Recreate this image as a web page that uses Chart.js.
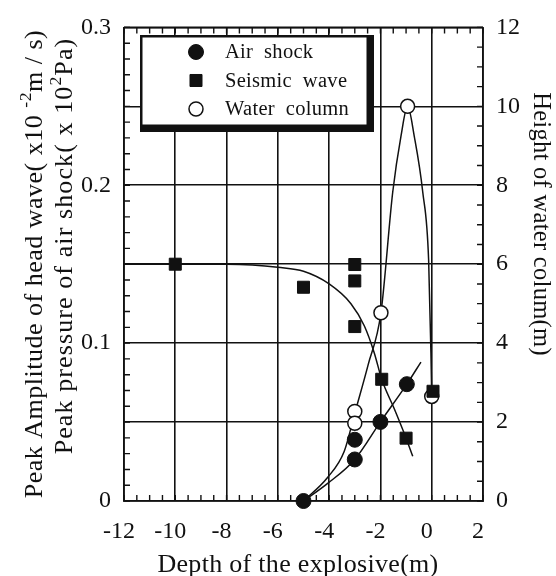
<!DOCTYPE html>
<html><head><meta charset="utf-8">
<script src="https://cdn.jsdelivr.net/npm/chart.js@4.4.1/dist/chart.umd.min.js"></script>
<style>html,body{margin:0;padding:0;background:#fff;}</style>
</head><body>
<canvas id="c" width="556" height="576" style="display:block;width:556px;height:576px"></canvas>
<script>
// ---- data ----
const xTickValues = [-12, -10, -8, -6, -4, -2, 0, 2];
const leftTickLabels = ['0', '0.1', '0.2', '0.3'];
const rightTickLabels = ['0', '2', '4', '6', '8', '10', '12'];

const airX = [-5, -3, -3, -2, -0.97];
const airY = [0, 0.0263, 0.0388, 0.0501, 0.074];

const seisX = [-10, -5, -3, -3, -3, -1.95, -1.0, 0.05];
const seisY = [0.15, 0.1354, 0.1498, 0.1394, 0.1105, 0.0771, 0.0398, 0.0695];

const waterX = [-3, -3, -1.98, -0.94, 0];
const waterY = [2.27, 1.97, 4.77, 10.0, 2.65];

// fitted curves
const airCurveX = [-5, -4.07, -3, -2, -0.97, -0.42];
const airCurveY = [0, 0.011, 0.0263, 0.0501, 0.074, 0.088];

const seisCurveX = [-12, -8, -7, -6, -5, -4, -3.15, -2.63, -2.24, -1.95, -1.46, -1.0, -0.74];
const seisCurveY = [0.15, 0.15, 0.1495, 0.148, 0.1455, 0.1375, 0.125, 0.111, 0.0938, 0.0771, 0.0584, 0.0398, 0.0283];

const waterCurveX = [-5, -4.07, -3.41, -2.98, -2.48, -1.98, -1.52, -1.2, -0.94, -0.68, -0.35, -0.12, -0.03, 0];
const waterCurveY = [0, 0.59, 1.26, 2.27, 3.45, 4.77, 7.83, 9.24, 10.0, 9.24, 7.83, 6.1, 3.75, 2.65];

const seriesNames = ['Air shock', 'Seismic wave', 'Water column'];

const zip = (xs, ys) => xs.map((x, i) => ({x: x, y: ys[i]}));
const FONT = '"Liberation Serif", "DejaVu Serif", serif';
const INK = '#111';

const pointBase = {showLine: false, clip: false, borderColor: INK, pointBorderColor: INK};
const curveBase = {showLine: true, pointRadius: 0, borderColor: INK, borderWidth: 1.5,
  cubicInterpolationMode: 'monotone', fill: false};

const datasets = [
  Object.assign({}, pointBase, {label: seriesNames[0], data: zip(airX, airY), yAxisID: 'y',
    pointStyle: 'circle', pointRadius: 7.5, pointBackgroundColor: INK, pointBorderWidth: 1}),
  Object.assign({}, pointBase, {label: seriesNames[1], data: zip(seisX, seisY), yAxisID: 'y',
    pointStyle: 'rect', pointRadius: 8.5, pointBackgroundColor: INK, pointBorderWidth: 1}),
  Object.assign({}, pointBase, {label: seriesNames[2], data: zip(waterX, waterY), yAxisID: 'y2',
    pointStyle: 'circle', pointRadius: 7, pointBackgroundColor: '#fff', pointBorderWidth: 1.5}),
  Object.assign({}, curveBase, {label: 'air fit', data: zip(airCurveX, airCurveY), yAxisID: 'y'}),
  Object.assign({}, curveBase, {label: 'seismic fit', data: zip(seisCurveX, seisCurveY), yAxisID: 'y'}),
  Object.assign({}, curveBase, {label: 'water fit', data: zip(waterCurveX, waterCurveY), yAxisID: 'y2'})
];

// ---- helpers ----
function drawRich(ctx, segs, cx, cy, angle, size, spacing) {
  ctx.save();
  ctx.translate(cx, cy);
  ctx.rotate(angle);
  if ('letterSpacing' in ctx) ctx.letterSpacing = (spacing || 0) + 'px';
  let total = 0;
  const widths = segs.map(s => {
    ctx.font = (s.sup ? size * 0.68 : size) + 'px ' + FONT;
    const w = ctx.measureText(s.t).width;
    total += w;
    return w;
  });
  let x = -total / 2;
  ctx.textBaseline = 'middle';
  ctx.textAlign = 'left';
  ctx.fillStyle = INK;
  segs.forEach((s, i) => {
    ctx.font = (s.sup ? size * 0.68 : size) + 'px ' + FONT;
    ctx.fillText(s.t, x, s.sup ? -size * 0.35 : 0);
    x += widths[i];
  });
  ctx.restore();
}

const decorPlugin = {
  id: 'decor',
  beforeDatasetsDraw(chart) {
    const ctx = chart.ctx, a = chart.chartArea;
    const xs = chart.scales.x, ys = chart.scales.y, y2 = chart.scales.y2;
    ctx.save();
    ctx.strokeStyle = INK;
    ctx.lineWidth = 1.6;
    ctx.beginPath(); ctx.moveTo(a.left, a.top); ctx.lineTo(a.right, a.top); ctx.stroke();
    ctx.lineWidth = 1.4;
    const L = 6;
    ctx.beginPath();
    for (let i = 0; i <= 28; i++) {
      const px = xs.getPixelForValue(-12 + i * 0.5);
      ctx.moveTo(px, a.bottom); ctx.lineTo(px, a.bottom - L);
      ctx.moveTo(px, a.top); ctx.lineTo(px, a.top + L);
    }
    for (let i = 0; i <= 30; i++) {
      const py = ys.getPixelForValue(i * 0.01);
      ctx.moveTo(a.left, py); ctx.lineTo(a.left + L, py);
    }
    for (let i = 0; i <= 24; i++) {
      const py = y2.getPixelForValue(i * 0.5);
      ctx.moveTo(a.right, py); ctx.lineTo(a.right - L, py);
    }
    ctx.stroke();
    ctx.restore();
  },
  afterDatasetsDraw(chart) {
    const ctx = chart.ctx;
    ctx.save();
    const bx = 140, by = 35, bw = 228, bh = 91, sh = 6;
    ctx.fillStyle = INK;
    ctx.fillRect(bx, by, bw + sh, bh + sh);
    ctx.fillStyle = '#fff';
    ctx.fillRect(bx + 2.5, by + 2.5, bw - 4, bh - 4);
    const rows = [52, 80.5, 109];
    const sx = 196, tx = 225;
    chart.data.datasets.slice(0, 3).forEach((ds, i) => {
      const y = rows[i];
      ctx.lineWidth = ds.pointBorderWidth;
      ctx.strokeStyle = INK;
      ctx.fillStyle = ds.pointBackgroundColor;
      ctx.beginPath();
      if (ds.pointStyle === 'rect') {
        const s = ds.pointRadius * Math.SQRT1_2;
        ctx.rect(sx - s, y - s, 2 * s, 2 * s);
      } else {
        ctx.arc(sx, y, ds.pointRadius, 0, Math.PI * 2);
      }
      ctx.fill(); ctx.stroke();
      ctx.fillStyle = INK;
      ctx.font = '20.5px ' + FONT;
      if ('letterSpacing' in ctx) ctx.letterSpacing = '0.3px';
      ctx.textBaseline = 'middle';
      ctx.textAlign = 'left';
      ctx.fillText(ds.label.replace(' ', '  '), tx, y + 1);
    });
    ctx.restore();
  },
  afterDraw(chart) {
    const ctx = chart.ctx;
    drawRich(ctx, [{t: 'Peak Amplitude of head wave( x10 '}, {t: '-2', sup: true}, {t: 'm / s)'}],
      35, 264, -Math.PI / 2, 26, 0.5);
    drawRich(ctx, [{t: 'Peak pressure of air shock( x 10'}, {t: '2', sup: true}, {t: 'Pa)'}],
      65, 246, -Math.PI / 2, 26, 1.1);
    drawRich(ctx, [{t: 'Height of water colum(m)'}], 540, 224, Math.PI / 2, 24.5, 0.3);
    drawRich(ctx, [{t: 'Depth of the explosive(m)'}], 298, 565, 0, 26, 0.3);
  }
};

const tickFont = {family: FONT, size: 24};

new Chart(document.getElementById('c'), {
  type: 'scatter',
  data: {datasets: datasets},
  options: {
    responsive: false,
    animation: false,
    events: [],
    layout: {padding: {top: 19, left: 0, right: 0, bottom: 0}},
    plugins: {legend: {display: false}, tooltip: {enabled: false}, title: {display: false}},
    scales: {
      x: {
        type: 'linear', min: -12, max: 2,
        afterFit(s) { s.height = 75; },
        afterBuildTicks(s) { s.ticks = xTickValues.map(v => ({value: v})); },
        ticks: {stepSize: 2, autoSkip: false, maxRotation: 0, color: INK, font: tickFont,
          padding: 16, labelOffset: -5,
          callback: v => String(v)},
        grid: {color: INK, lineWidth: 1.6, drawTicks: false},
        border: {display: true, color: INK, width: 1.8}
      },
      y: {
        type: 'linear', position: 'left', min: 0, max: 0.3,
        afterFit(s) { s.width = 124; },
        afterBuildTicks(s) {
          const t = [];
          for (let i = 0; i <= 6; i++) t.push({value: i * 0.05});
          s.ticks = t;
        },
        ticks: {autoSkip: false, color: INK, font: tickFont, padding: 13,
          callback: (v) => {
            const k = Math.round(v * 20);
            return k % 2 === 0 ? leftTickLabels[k / 2] : '';
          }},
        grid: {color: INK, lineWidth: 1.6, drawTicks: false},
        border: {display: true, color: INK, width: 1.8}
      },
      y2: {
        type: 'linear', position: 'right', min: 0, max: 12,
        afterFit(s) { s.width = 73; },
        afterBuildTicks(s) { s.ticks = rightTickLabels.map(v => ({value: Number(v)})); },
        ticks: {autoSkip: false, color: INK, font: tickFont, padding: 13,
          callback: (v, i) => rightTickLabels[i]},
        grid: {drawOnChartArea: false, drawTicks: false},
        border: {display: true, color: INK, width: 1.8}
      }
    }
  },
  plugins: [decorPlugin]
});
</script>
</body></html>
